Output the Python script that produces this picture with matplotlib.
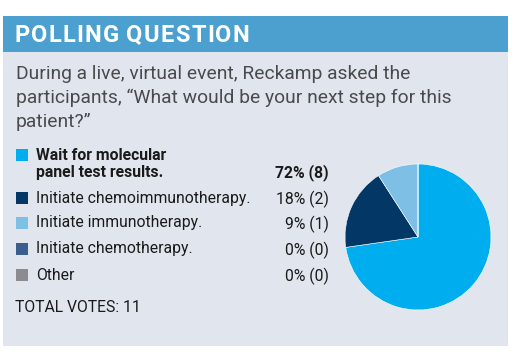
import matplotlib
matplotlib.use("Agg")
import matplotlib.pyplot as plt
from matplotlib.patches import Rectangle

plt.rcParams['font.family'] = ['Roboto', 'DejaVu Sans']

# poll data
title = "POLLING QUESTION"
question = ["During a live, virtual event, Reckamp asked the",
            "participants, \u201cWhat would be your next step for this",
            "patient?\u201d"]
options = [["Wait for molecular", "panel test results."],
           ["Initiate chemoimmunotherapy."],
           ["Initiate immunotherapy."],
           ["Initiate chemotherapy."],
           ["Other"]]
votes = [8, 2, 1, 0, 0]
percents = [72, 18, 9, 0, 0]
colors = ["#00AEEF", "#033765", "#7EBFE5", "#3A5E8D", "#8B8B90"]
total_votes = 11

W, H = 514, 354
fig = plt.figure(figsize=(W / 100, H / 100), dpi=100)
fig.patch.set_facecolor("white")

# background axes in pixel coords (y down)
bg = fig.add_axes([0, 0, 1, 1])
bg.set_xlim(0, W)
bg.set_ylim(H, 0)
bg.axis("off")
bg.add_patch(Rectangle((3, 16), 505, 330, color="#E1E6EE", lw=0))
bg.add_patch(Rectangle((3, 16), 505, 36, color="#4BA0CF", lw=0))

# letter-spaced title, one character at a time
renderer = fig.canvas.get_renderer()
x = 14
for ch in title:
    t = bg.text(x, 35, ch, color="white", fontsize=17, fontweight="bold",
                va="center", ha="left")
    if ch == " ":
        adv = 5
    else:
        adv = t.get_window_extent(renderer).width
    x += adv + 1.3

for i, line in enumerate(question):
    bg.text(16, 74 + i * 24, line, color="#4A4A4C", fontsize=13.9,
            va="center", ha="left")

square_y = [155, 198, 223, 249, 275]
for i, (opt, c) in enumerate(zip(options, colors)):
    bg.add_patch(Rectangle((16, square_y[i] - 6), 12, 12, color=c, lw=0))
    weight = "bold" if i == 0 else "normal"
    for j, line in enumerate(opt):
        bg.text(36, square_y[i] + j * 17, line, color="#1A1A1A", fontsize=11.3,
                fontweight=weight, va="center", ha="left")
    label_y = square_y[i] + 17 * (len(opt) - 1) + 1
    bg.text(329, label_y, f"{percents[i]}% ({votes[i]})", color="#1A1A1A",
            fontsize=11.3, fontweight=weight, va="center", ha="right")

bg.text(15, 307, f"TOTAL VOTES: {total_votes}", color="#1A1A1A",
        fontsize=11.3, va="center", ha="left")

# pie
cx, cy, r = 418, 237, 73
pie_ax = fig.add_axes([(cx - r) / W, (H - cy - r) / H, 2 * r / W, 2 * r / H])
pie_ax.pie(votes, colors=colors, startangle=90, counterclock=False,
           radius=1, wedgeprops=dict(edgecolor="white", linewidth=0.4))
pie_ax.set_xlim(-1, 1)
pie_ax.set_ylim(-1, 1)
pie_ax.set_aspect("equal")
pie_ax.axis("off")

fig.savefig("out.png", dpi=100, facecolor="white")
